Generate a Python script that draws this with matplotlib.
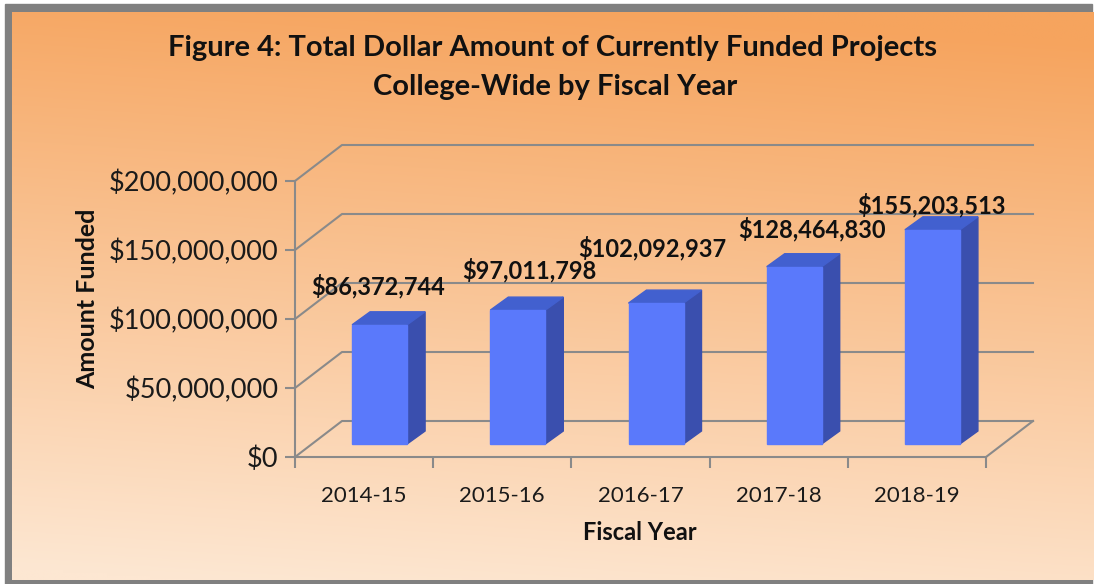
import numpy as np
import matplotlib.pyplot as plt
from matplotlib.patches import Polygon, Rectangle
from matplotlib.ticker import FuncFormatter

# data
years = ['2014-15', '2015-16', '2016-17', '2017-18', '2018-19']
funded = [86372744, 97011798, 102092937, 128464830, 155203513]
y_ticks = [0, 50000000, 100000000, 150000000, 200000000]

# label nudges in pixels (the excel labels are not placed consistently)
nudge = [(-2, 39), (12, 40), (-4, 55), (18, 38), (-1, 25)]

W, H = 1098, 584
plt.rcParams['font.family'] = ['Lato', 'DejaVu Sans']
fig = plt.figure(figsize=(W / 100, H / 100), dpi=100)
fig.patch.set_facecolor('white')

# background with gray shadow frame and orange gradient
bg = fig.add_axes([0, 0, 1, 1], zorder=-10)
bg.axis('off')
bg.add_patch(Rectangle((5, 4), 1087, 580, color='#808080'))
top = np.array([246, 164, 94]) / 255
bot = np.array([253, 231, 210]) / 255
vv, uu = np.mgrid[0:1:200j, 0:1:200j]
t = np.clip(0.95 * vv + 0.12 * (1 - uu) - 0.05, 0, 1)
grad = top[None, None, :] + t[:, :, None] * (bot - top)[None, None, :]
bg.imshow(grad, extent=(12, 1094, 580, 12), aspect='auto', zorder=1)
# imshow resets the limits, so set them afterwards
bg.set_xlim(0, W)
bg.set_ylim(H, 0)

# main axes = front plane of the 3d box
x0, x1, y0, y1 = 295, 986, 457, 181
ax = fig.add_axes([x0 / W, (H - y0) / H, (x1 - x0) / W, (y0 - y1) / H])
ax.set_facecolor('none')
n = len(years)
ax.set_xlim(-0.5, n - 0.5)
ax.set_ylim(0, 200000000)

px_x = (x1 - x0) / n
px_y = (y0 - y1) / 200000000
# depth of the box (back wall offset)
DX, DY = 47 / px_x, 36 / px_y
# bar placement inside the depth
BX, BY = 15.5 / px_x, 13 / px_y
BDX, BDY = 18 / px_x, 13 / px_y
BW = 55 / px_x

grid_c = '#8a8a8a'
for v in y_ticks:
    ax.plot([-0.5, -0.5 + DX, n - 0.5 + DX], [v, v + DY, v + DY],
            color=grid_c, lw=1.5, clip_on=False, zorder=1)
ax.plot([n - 0.5, n - 0.5 + DX], [0, DY], color=grid_c, lw=1.5,
        clip_on=False, zorder=1)

front_c = '#5a79fb'
side_c = '#3a4fae'
top_c = '#4260cf'
for i, v in enumerate(funded):
    xl = i + BX - BW / 2
    xr = xl + BW
    b = BY
    ax.add_patch(Polygon([(xr, b), (xr, b + v), (xr + BDX, b + v + BDY),
                          (xr + BDX, b + BDY)], closed=True, color=side_c,
                         clip_on=False, zorder=3))
    ax.add_patch(Polygon([(xl, b + v), (xr, b + v), (xr + BDX, b + v + BDY),
                          (xl + BDX, b + v + BDY)], closed=True, color=top_c,
                         clip_on=False, zorder=3))
    ax.add_patch(Rectangle((xl, b), BW, v, color=front_c, clip_on=False,
                           zorder=4))
    ax.annotate(f'${v:,.0f}', (i + BX, b + v), xytext=nudge[i],
                textcoords='offset pixels', ha='center', va='center',
                fontsize=17, fontweight='bold', color='#111111', zorder=6,
                annotation_clip=False)

for s in ['top', 'right']:
    ax.spines[s].set_visible(False)
for s in ['left', 'bottom']:
    ax.spines[s].set_color(grid_c)
    ax.spines[s].set_linewidth(1.5)

ax.set_yticks(y_ticks)
ax.yaxis.set_major_formatter(FuncFormatter(lambda v, p: f'${v:,.0f}'))
ax.set_xticks(np.arange(n + 1) - 0.5, labels=[''] * (n + 1))
ax.set_xticks(range(n), labels=years, minor=True)
ax.tick_params(axis='y', direction='out', length=7, width=1.5, color=grid_c,
               labelsize=19.5, labelcolor='#1a1a1a', pad=5)
ax.tick_params(axis='x', which='major', direction='out', length=8, width=1.5,
               color=grid_c)
ax.tick_params(axis='x', which='minor', length=0, labelsize=16,
               labelcolor='#1a1a1a', pad=21)

fig.text(553 / W, 1 - 48 / H,
         'Figure 4: Total Dollar Amount of Currently Funded Projects',
         ha='center', va='center', fontsize=21, fontweight='bold',
         color='#111111')
fig.text(555 / W, 1 - 87 / H, 'College-Wide by Fiscal Year',
         ha='center', va='center', fontsize=21, fontweight='bold',
         color='#111111')
fig.text(88 / W, 1 - 299 / H, 'Amount Funded', rotation=90, ha='center',
         va='center', fontsize=18, fontweight='bold', color='#111111')
fig.text(640 / W, 1 - 533 / H, 'Fiscal Year', ha='center', va='center',
         fontsize=17, fontweight='bold', color='#111111')

fig.savefig('out.png', dpi=100)
